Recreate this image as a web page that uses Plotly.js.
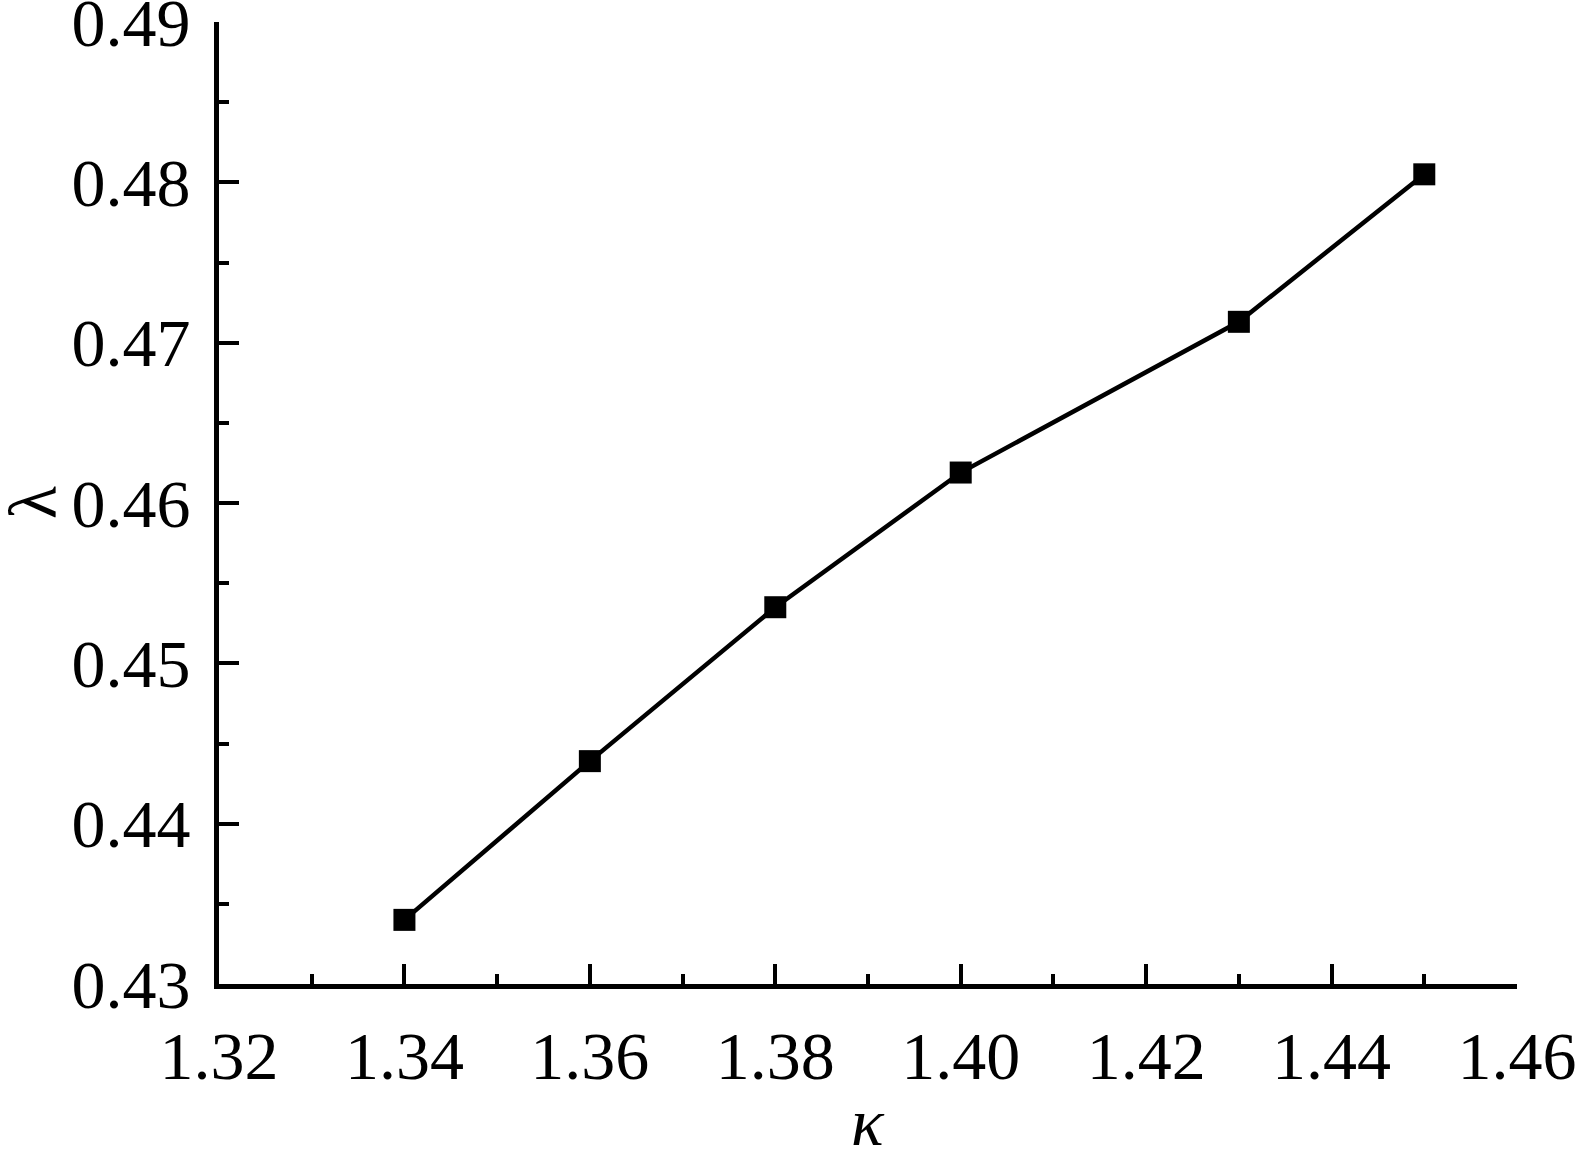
<!DOCTYPE html>
<html>
<head>
<meta charset="utf-8">
<script src="https://cdn.plot.ly/plotly-3.0.1.min.js"></script>
<style>html,body{margin:0;padding:0;background:#fff;}#chart{width:1580px;height:1152px;}</style>
</head>
<body>
<div id="chart"></div>
<script>
const kappa = [1.34, 1.36, 1.38, 1.40, 1.43, 1.45];
const lambda = [0.4340, 0.4439, 0.4535, 0.4619, 0.4713, 0.4805];
const xTicks = [1.32, 1.34, 1.36, 1.38, 1.40, 1.42, 1.44, 1.46];
const xTickText = ["1.32", "1.34", "1.36", "1.38", "1.40", "1.42", "1.44", "1.46"];
const yTicks = [0.43, 0.44, 0.45, 0.46, 0.47, 0.48, 0.49];
const yTickText = ["0.43", "0.44", "0.45", "0.46", "0.47", "0.48", "0.49"];
const xTitle = 'κ';
const yTitle = 'λ';

const font = "Liberation Serif, Times New Roman, serif";

const trace = {
  x: kappa, y: lambda, type: 'scatter', mode: 'lines+markers',
  line: {color: '#000', width: 4.5},
  marker: {symbol: 'square', size: 22, color: '#000'},
  cliponaxis: false, showlegend: false
};

const layout = {
  width: 1580, height: 1152,
  margin: {l: 219, r: 63, t: 22, b: 168},
  paper_bgcolor: '#fff', plot_bgcolor: '#fff',
  font: {family: font, color: '#000', size: 68},
  xaxis: {
    range: [1.32, 1.46], showgrid: false, zeroline: false,
    showline: true, linecolor: '#000', linewidth: 5,
    ticks: 'inside', ticklen: 20, tickwidth: 4, tickcolor: '#000',
    tickvals: xTicks, ticktext: xTickText,
    tickfont: {family: font, size: 68, color: '#000'},
    ticklabelstandoff: 8, ticklabeloverflow: 'allow',
    minor: {ticks: 'inside', dtick: 0.01, ticklen: 10, tickwidth: 4, tickcolor: '#000', showgrid: false}
  },
  yaxis: {
    range: [0.43, 0.49], showgrid: false, zeroline: false,
    showline: true, linecolor: '#000', linewidth: 5,
    ticks: 'inside', ticklen: 20, tickwidth: 4, tickcolor: '#000',
    tickvals: yTicks, ticktext: yTickText,
    tickfont: {family: font, size: 68, color: '#000'},
    ticklabelstandoff: 10, ticklabeloverflow: 'allow',
    minor: {ticks: 'inside', dtick: 0.005, ticklen: 10, tickwidth: 4, tickcolor: '#000', showgrid: false}
  },
  annotations: [
    {text: '<i>' + xTitle + '</i>', xref: 'paper', yref: 'paper', x: 0.5, y: 0,
     xanchor: 'center', yanchor: 'top', yshift: -98, showarrow: false,
     font: {family: font, size: 68, color: '#000'}},
    {text: yTitle, xref: 'paper', yref: 'paper', x: 0, y: 0.5,
     xanchor: 'center', yanchor: 'middle', xshift: -186, textangle: -90, showarrow: false,
     font: {family: font, size: 68, color: '#000'}}
  ]
};

Plotly.newPlot('chart', [trace], layout, {displayModeBar: false, staticPlot: true});
</script>
</body>
</html>
